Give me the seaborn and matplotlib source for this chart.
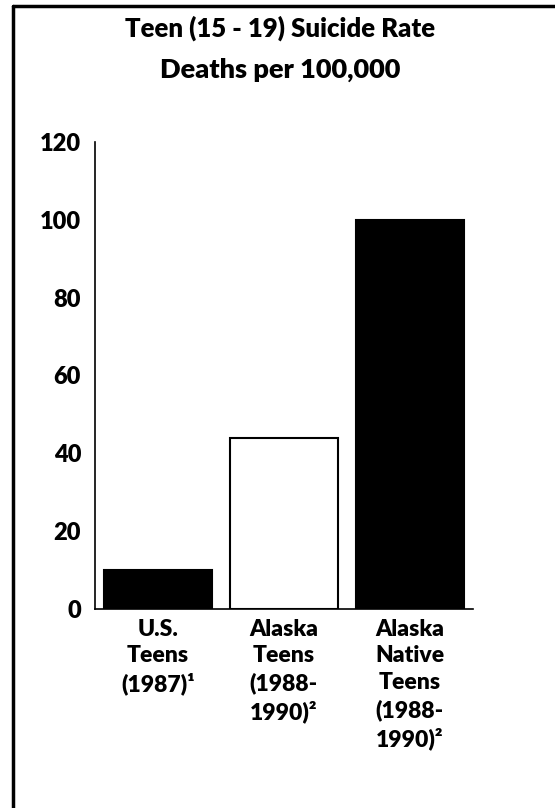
import matplotlib
matplotlib.use("Agg")
import matplotlib.pyplot as plt
import seaborn as sns
import pandas as pd
from matplotlib.lines import Line2D

# chart data
groups = ["U.S.\nTeens\n(1987)\u00b9",
          "Alaska\nTeens\n(1988-\n1990)\u00b2",
          "Alaska\nNative\nTeens\n(1988-\n1990)\u00b2"]
rates = [10, 44, 100]
fills = ["black", "white", "black"]
y_ticks = [0, 20, 40, 60, 80, 100, 120]

sns.set_style("white")
plt.rcParams['font.family'] = ['Lato', 'DejaVu Sans']
plt.rcParams['font.weight'] = 'bold'
for key in ['text.color', 'axes.labelcolor', 'xtick.color', 'ytick.color']:
    plt.rcParams[key] = 'black'

df = pd.DataFrame({'group': groups, 'rate': rates})

W, H = 555, 808
fig = plt.figure(figsize=(W / 100, H / 100), dpi=100)
ax = fig.add_axes([95 / W, 1 - 609 / H, (473 - 95) / W, (609 - 142) / H])

sns.barplot(data=df, x='group', y='rate', hue='group', palette=fills,
            legend=False, width=0.85, edgecolor='black', linewidth=1.5, ax=ax)

ax.set_xlim(-0.5, 2.5)
ax.set_ylim(0, 120)
ax.set_yticks(y_ticks)
ax.set_yticklabels([str(t) for t in y_ticks], fontsize=17, fontweight='heavy')
ax.tick_params(axis='y', direction='in', length=4, width=1, pad=10, colors='black')
ax.tick_params(axis='x', length=0, pad=7, colors='black')
for lbl in ax.get_xticklabels():
    lbl.set_fontsize(16.5)
    lbl.set_fontweight('heavy')
    lbl.set_linespacing(1.33)
ax.set_xlabel('')
ax.set_ylabel('')
sns.despine(ax=ax)
for s in ['left', 'bottom']:
    ax.spines[s].set_color('black')
    ax.spines[s].set_linewidth(1.2)

fig.text(280 / W, 1 - 28 / H, "Teen (15 - 19) Suicide Rate", ha='center', va='center',
         fontsize=18.5, fontweight='heavy', color='black')
fig.text(280 / W, 1 - 70 / H, "Deaths per 100,000", ha='center', va='center',
         fontsize=19.5, fontweight='heavy', color='black')

# page frame (left and top edges)
fig.add_artist(Line2D([13 / W, 13 / W], [1 - 6 / H, 0], color='black', lw=2.5))
fig.add_artist(Line2D([13 / W, 1], [1 - 6 / H, 1 - 6 / H], color='black', lw=2.5))

fig.savefig('out.png', dpi=100)
